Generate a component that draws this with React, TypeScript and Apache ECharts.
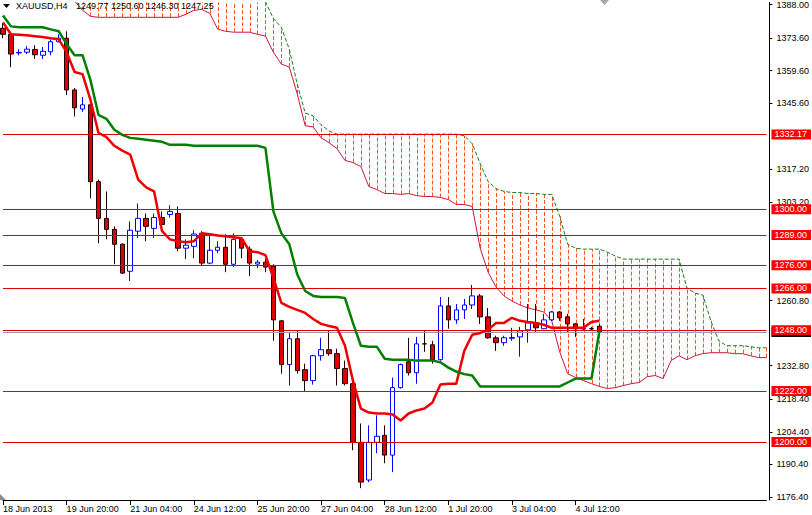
import React, { useEffect, useRef } from "react";
import * as echarts from "echarts";

// ---------- data ----------
const days = ["18 Jun", "19 Jun", "20 Jun", "21 Jun", "24 Jun", "25 Jun", "26 Jun", "27 Jun", "28 Jun", "1 Jul", "2 Jul", "3 Jul", "4 Jul", "5 Jul", "8 Jul", "9 Jul", "10 Jul"];
const hours = ["00:00", "04:00", "08:00", "12:00", "16:00", "20:00"];
const categories: string[] = days.flatMap((d) => hours.map((h) => `${d} ${h}`)).slice(3, 100);

const tickLabels = ["18 Jun 2013", "19 Jun 20:00", "21 Jun 04:00", "24 Jun 12:00", "25 Jun 20:00", "27 Jun 04:00", "28 Jun 12:00", "1 Jul 20:00", "3 Jul 04:00", "4 Jul 12:00"];
const yTickValues = [1388.0, 1373.6, 1359.6, 1345.6, 1317.2, 1303.2, 1260.8, 1232.8, 1218.4, 1204.4, 1190.4, 1176.4];
const levels = [1332.17, 1300.0, 1289.0, 1276.0, 1266.0, 1248.0, 1222.0, 1200.0];
const bidPrice = 1247.25;
const symbolName = "XAUUSD,H4";

// [open, close, low, high]
const candles: number[][] = [
  [1377.8, 1375.2, 1373.5, 1380.0], [1375.2, 1366.7, 1361.1, 1376.0], [1367.2, 1367.4, 1366.2, 1368.8], [1367.5, 1368.8, 1366.7, 1370.1],
  [1368.7, 1366.4, 1364.6, 1370.5], [1366.2, 1367.9, 1364.6, 1369.7], [1367.7, 1372.0, 1366.2, 1373.0], [1372.0, 1373.5, 1371.8, 1375.2],
  [1373.5, 1351.3, 1349.1, 1376.5], [1351.3, 1343.6, 1339.9, 1352.1], [1343.1, 1344.9, 1341.9, 1348.3], [1344.9, 1311.9, 1304.7, 1345.3],
  [1311.9, 1296.1, 1285.4, 1312.8], [1296.1, 1291.4, 1287.1, 1307.7], [1291.4, 1285.0, 1276.4, 1292.7], [1285.0, 1272.6, 1272.2, 1285.4],
  [1273.4, 1291.0, 1269.2, 1294.8], [1290.6, 1296.1, 1287.6, 1302.5], [1296.1, 1292.7, 1286.3, 1298.2], [1291.8, 1296.5, 1287.6, 1298.2],
  [1296.5, 1293.5, 1293.1, 1299.1], [1297.8, 1299.1, 1296.5, 1301.7], [1298.2, 1283.3, 1282.0, 1301.2], [1283.3, 1284.6, 1278.6, 1287.1],
  [1284.1, 1289.4, 1279.0, 1291.0], [1289.7, 1276.9, 1276.0, 1290.6], [1276.9, 1282.4, 1276.4, 1289.7], [1282.4, 1283.7, 1281.1, 1286.3],
  [1283.7, 1276.4, 1273.0, 1289.3], [1276.4, 1287.1, 1275.2, 1289.7], [1287.1, 1283.3, 1279.0, 1287.6], [1282.9, 1276.9, 1271.3, 1284.1],
  [1276.5, 1277.3, 1274.7, 1278.2], [1277.3, 1275.2, 1273.0, 1278.6], [1275.6, 1252.5, 1243.5, 1276.4], [1252.1, 1233.3, 1229.4, 1252.5],
  [1233.3, 1244.4, 1224.3, 1246.9], [1244.4, 1230.7, 1229.4, 1248.2], [1231.1, 1226.4, 1221.7, 1233.7], [1226.4, 1237.1, 1224.7, 1237.5],
  [1237.1, 1239.7, 1235.0, 1244.8], [1239.7, 1238.0, 1237.1, 1248.2], [1238.0, 1231.6, 1224.3, 1240.1], [1231.6, 1225.1, 1224.3, 1235.0],
  [1225.1, 1199.9, 1196.5, 1227.3], [1199.9, 1182.8, 1180.2, 1208.0], [1183.7, 1199.9, 1182.8, 1207.2], [1199.9, 1202.5, 1195.2, 1211.5],
  [1202.9, 1194.4, 1190.9, 1207.2], [1194.4, 1223.4, 1187.1, 1227.7], [1223.4, 1233.3, 1223.0, 1233.7], [1234.5, 1229.8, 1228.6, 1244.8],
  [1229.8, 1242.2, 1225.1, 1245.2], [1242.2, 1242.2, 1238.8, 1247.8], [1241.8, 1235.4, 1233.7, 1243.5], [1235.4, 1258.5, 1235.0, 1262.3],
  [1258.5, 1252.5, 1248.7, 1262.3], [1252.5, 1256.8, 1250.8, 1259.3], [1256.8, 1258.9, 1252.9, 1261.5], [1258.9, 1262.8, 1257.2, 1267.5],
  [1262.8, 1253.8, 1250.8, 1263.6], [1253.8, 1244.8, 1244.4, 1257.6], [1244.8, 1242.7, 1239.2, 1245.7], [1242.7, 1244.8, 1241.4, 1245.7],
  [1244.6, 1244.9, 1243.5, 1249.1], [1245.2, 1247.8, 1236.7, 1249.5], [1248.2, 1251.2, 1242.7, 1259.3], [1251.2, 1249.1, 1247.0, 1259.3],
  [1248.7, 1252.5, 1248.5, 1255.1], [1252.5, 1255.9, 1252.1, 1256.3], [1255.9, 1253.4, 1252.1, 1256.3], [1253.8, 1250.8, 1246.9, 1255.1],
  [1250.8, 1248.7, 1245.2, 1251.0], [1248.6, 1248.8, 1247.8, 1252.9], [1248.7, 1248.7, 1248.0, 1249.5], [1249.77, 1247.25, 1246.3, 1250.6],
];

const tenkan = [
  1380.3, 1375.2, 1375.0, 1374.8, 1374.4, 1374.0, 1373.5, 1373.1, 1367.5, 1359.0,
  1358.1, 1347.0, 1332.9, 1331.0, 1327.3, 1325.2, 1323.5, 1312.8, 1309.4, 1307.7,
  1290.6, 1287.1, 1286.3, 1285.9, 1286.3, 1289.7, 1289.3, 1288.8, 1288.4, 1288.0,
  1287.6, 1282.0, 1281.6, 1280.3, 1270.5, 1259.8, 1258.1, 1256.8, 1255.5, 1252.9,
  1250.8, 1249.9, 1249.1, 1241.4, 1226.4, 1214.4, 1212.7, 1212.3, 1212.3, 1211.9,
  1209.3, 1212.3, 1213.6, 1214.4, 1217.0, 1224.7, 1225.1, 1225.1, 1239.2, 1246.1,
  1246.9, 1248.2, 1251.2, 1251.2, 1253.4, 1252.1, 1251.6, 1251.2, 1250.4, 1249.1,
  1249.1, 1249.1, 1249.1, 1249.1, 1251.6, 1252.1,
];

const kijun = [
  1383.3, 1378.6, 1378.2, 1378.2, 1378.2, 1378.2, 1377.3, 1376.5, 1371.0, 1366.2,
  1366.2, 1355.5, 1340.6, 1338.9, 1334.2, 1332.0, 1330.7, 1330.3, 1329.9, 1329.5,
  1329.0, 1327.7, 1327.7, 1327.7, 1327.3, 1327.3, 1327.3, 1327.3, 1327.3, 1327.3,
  1327.3, 1327.3, 1327.3, 1326.4, 1299.1, 1289.7, 1285.0, 1272.0, 1264.9, 1262.8,
  1262.3, 1262.3, 1262.3, 1261.9, 1251.2, 1241.4, 1241.0, 1241.0, 1235.8, 1235.4,
  1235.4, 1235.4, 1235.0, 1235.0, 1235.0, 1234.3, 1232.0, 1230.3, 1229.2, 1228.6,
  1223.9, 1223.9, 1223.9, 1223.9, 1223.9, 1223.9, 1223.9, 1223.9, 1223.9, 1223.9,
  1223.9, 1225.6, 1227.3, 1227.3, 1227.3, 1247.8,
];

const senkouA = [
  1412, 1410, 1407, 1404, 1401, 1398, 1395, 1393, 1391, 1389.5,
  1385.5, 1382.9, 1382.5, 1382.5, 1382.5, 1382.5, 1382.5, 1382.5, 1382.5, 1382.5,
  1382.5, 1382.5, 1382.5, 1383.8, 1385.5, 1385.9, 1384.2, 1377.4, 1376.5, 1376.1,
  1376.1, 1376.1, 1375.2, 1374.4, 1367.5, 1362.4, 1361.1, 1349.6, 1335.9, 1335.4,
  1330.7, 1328.6, 1326.1, 1321.0, 1320.1, 1318.4, 1309.8, 1308.5, 1306.8, 1306.8,
  1306.4, 1306.8, 1305.9, 1305.5, 1305.5, 1305.1, 1304.2, 1302.1, 1302.1, 1301.2,
  1283.3, 1273.0, 1266.6, 1262.8, 1260.6, 1258.9, 1257.6, 1256.8, 1255.9, 1252.1,
  1238.8, 1229.4, 1227.7, 1226.4, 1225.1, 1223.9, 1223.0, 1223.4, 1224.3, 1225.1,
  1225.6, 1228.1, 1228.6, 1227.3, 1235.0, 1237.1, 1235.4, 1237.1, 1238.0, 1238.4,
  1238.4, 1238.4, 1238.0, 1238.0, 1237.1, 1236.3, 1236.3,
];

const senkouB = [
  1430, 1429, 1428, 1427, 1426, 1424, 1422, 1420, 1418, 1416,
  1414, 1412, 1410, 1409, 1408, 1407, 1406, 1405, 1404, 1403,
  1402, 1401, 1400, 1399, 1398, 1397, 1396, 1395.5, 1395, 1394.5,
  1394, 1393.5, 1392.5, 1389.2, 1382.0, 1378.2, 1368.8, 1353.8, 1341.4, 1340.1,
  1336.3, 1333.7, 1332.3, 1332.3, 1332.3, 1332.3, 1332.3, 1332.3, 1332.3, 1332.3,
  1332.3, 1332.3, 1332.3, 1332.3, 1332.3, 1332.3, 1332.3, 1332.3, 1331.6, 1328.2,
  1319.6, 1311.9, 1308.9, 1307.7, 1307.2, 1307.2, 1306.8, 1306.8, 1306.4, 1306.4,
  1297.0, 1285.0, 1283.3, 1282.9, 1282.9, 1282.9, 1281.6, 1279.9, 1278.6, 1278.6,
  1278.6, 1278.6, 1278.6, 1278.6, 1278.6, 1278.6, 1266.2, 1264.0, 1263.2, 1252.1,
  1243.5, 1241.4, 1241.4, 1241.4, 1241.0, 1240.5, 1240.5,
];

const FONT = "'Liberation Sans', Arial, sans-serif";

export default function App() {
  const ref = useRef<HTMLDivElement>(null);

  useEffect(() => {
    if (!ref.current) return;
    const chart = echarts.init(ref.current, null, { renderer: "svg" });
    const last = candles[candles.length - 1];
    const ohlcText = [last[0], last[3], last[2], last[1]].map((v) => v.toFixed(2)).join(" ");
    const showIdx = (i: number) => i % 8 === 0 && i / 8 < tickLabels.length;

    const option: any = {
      animation: false,
      backgroundColor: "#ffffff",
      textStyle: { fontFamily: FONT },
      grid: { left: 0, right: 44, top: 0, bottom: 15 },
      xAxis: {
        type: "category",
        data: categories,
        boundaryGap: false,
        axisLine: { lineStyle: { color: "#000", width: 1 } },
        axisTick: { interval: (i: number) => showIdx(i), length: 5, lineStyle: { color: "#000" } },
        axisLabel: {
          interval: (i: number) => showIdx(i),
          formatter: (_v: string, i: number) => tickLabels[i / 8] ?? "",
          align: "left",
          margin: 4,
          fontSize: 9,
          fontFamily: FONT,
          color: "#000",
        },
        splitLine: { show: false },
      },
      yAxis: {
        type: "value",
        position: "right",
        offset: 3,
        min: 1175.12,
        max: 1388.89,
        scale: true,
        axisLine: { show: true, lineStyle: { color: "#000" } },
        axisTick: { show: true, length: 3, customValues: yTickValues, lineStyle: { color: "#000" } },
        axisLabel: {
          customValues: yTickValues,
          formatter: (v: number) => v.toFixed(2),
          fontSize: 9,
          fontFamily: FONT,
          color: "#000",
          margin: 7,
        },
        splitLine: { show: false },
      },
      graphic: [
        { type: "polygon", shape: { points: [[3, 4], [10, 4], [6.5, 8]] }, style: { fill: "#000" }, z: 100 },
        { type: "text", x: 16, y: 1, style: { text: symbolName, fontSize: 9, fontFamily: FONT, fill: "#000" }, z: 100 },
        { type: "text", x: 76, y: 1, style: { text: ohlcText, fontSize: 9, fontFamily: FONT, fill: "#000" }, z: 100 },
        { type: "polygon", shape: { points: [[0, 494], [0, 500], [6, 500]] }, style: { fill: "#8c8c8c" }, z: 100 },
        { type: "polygon", shape: { points: [[600, 0], [609, 0], [604.5, 5]] }, style: { fill: "#a8a8a8" }, z: 100 },
      ],
      series: [
        {
          name: "cloud",
          type: "custom",
          silent: true,
          z: 1,
          data: senkouA.map((a, i) => [i, a, senkouB[i]]),
          encode: { x: 0, y: [1, 2] },
          renderItem: (params: any, api: any) => {
            const i = api.value(0);
            const p1 = api.coord([i, api.value(1)]);
            const p2 = api.coord([i, api.value(2)]);
            const cs = params.coordSys;
            const top = cs.y;
            const bot = cs.y + cs.height;
            const y1 = Math.min(Math.max(p1[1], top), bot);
            const y2 = Math.min(Math.max(p2[1], top), bot);
            if (Math.abs(y1 - y2) < 0.5) return null;
            const x = Math.round(p1[0]) + 0.5;
            return {
              type: "line",
              shape: { x1: x, y1: Math.max(y1, y2), x2: x, y2: Math.min(y1, y2) },
              style: { stroke: "#ff5020", lineWidth: 1, lineDash: [4, 2] },
            };
          },
        },
        {
          name: "Senkou A",
          type: "line",
          data: senkouA,
          showSymbol: false,
          silent: true,
          z: 2,
          lineStyle: { color: "#d0143c", width: 1 },
        },
        {
          name: "Senkou B",
          type: "line",
          data: senkouB,
          showSymbol: false,
          silent: true,
          z: 2,
          lineStyle: { color: "#1a7a1a", width: 1, type: [4, 2] },
        },
        {
          name: "levels",
          type: "line",
          data: [],
          z: 3,
          silent: true,
          markLine: {
            silent: true,
            symbol: "none",
            animation: false,
            lineStyle: { color: "#e00000", width: 1, type: "solid" },
            label: {
              show: true,
              position: "end",
              distance: 5,
              formatter: (p: any) => Number(p.value).toFixed(2),
              backgroundColor: "#ff0000",
              color: "#ffffff",
              padding: [1, 4, 0, 3],
              fontSize: 9,
              fontFamily: FONT,
            },
            data: [
              { yAxis: bidPrice, lineStyle: { color: "#9a9ab4" }, label: { backgroundColor: "#000000" } },
              ...levels.map((v) => ({ yAxis: v })),
            ],
          },
        },
        {
          name: "XAUUSD",
          type: "candlestick",
          data: candles,
          barWidth: 5,
          z: 4,
          silent: true,
          itemStyle: {
            color: "#ffffff",
            color0: "#e00000",
            borderColor: "#0000ff",
            borderColor0: "#200000",
            borderColorDoji: "#000000",
            borderWidth: 1,
          },
        },
        {
          name: "Tenkan",
          type: "line",
          data: tenkan,
          showSymbol: false,
          silent: true,
          z: 5,
          lineStyle: { color: "#ee0000", width: 2.5 },
        },
        {
          name: "Kijun",
          type: "line",
          data: kijun,
          showSymbol: false,
          silent: true,
          z: 5,
          lineStyle: { color: "#008000", width: 2.5 },
        },
      ],
    };

    chart.setOption(option);
    return () => chart.dispose();
  }, []);

  return (
    <div
      ref={ref}
      style={{ position: "fixed", left: 0, top: 0, width: 812, height: 515, background: "#fff" }}
    />
  );
}
